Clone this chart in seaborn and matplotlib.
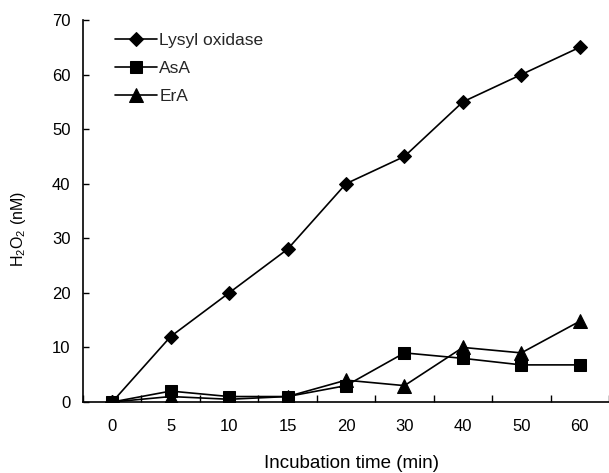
import matplotlib
matplotlib.use("Agg")
import matplotlib.pyplot as plt
import seaborn as sns
import pandas as pd
import numpy as np

times = ["0", "5", "10", "15", "20", "30", "40", "50", "60"]
lysyl = [0, 12, 20, 28, 40, 45, 55, 60, 65]
asa = [0, 2, 1, 1, 3, 9, 8, 6.8, 6.8]
era = [0, 1, 0.5, 1, 4, 3, 10, 9, 14.8]
series_names = ["Lysyl oxidase", "AsA", "ErA"]
yticks = [0, 10, 20, 30, 40, 50, 60, 70]

df = pd.DataFrame({
    "time": times * 3,
    "value": lysyl + asa + era,
    "series": [series_names[0]] * len(times) + [series_names[1]] * len(times) + [series_names[2]] * len(times),
})

sns.set_style("ticks")
plt.rcParams["font.family"] = ["Liberation Sans", "DejaVu Sans"]
plt.rcParams["mathtext.default"] = "regular"

fig = plt.figure(figsize=(6.09, 4.73), dpi=100)
ax = fig.add_axes([83 / 609, 1 - 402 / 473, 526 / 609, 382 / 473])

markers = {"Lysyl oxidase": "D", "AsA": "s", "ErA": "^"}
sizes = {"Lysyl oxidase": 7, "AsA": 8.5, "ErA": 9.5}
for name in series_names:
    sub = df[df["series"] == name]
    sns.lineplot(data=sub, x="time", y="value", ax=ax, color="black",
                 marker=markers[name], markersize=sizes[name], linewidth=1.2,
                 markeredgecolor="black", markerfacecolor="black", label=name,
                 sort=False)

ax.set_xlim(-0.5, len(times) - 0.5)
ax.set_ylim(0, 70)
ax.set_yticks(yticks)
ax.set_xticks(range(len(times)))
ax.set_xticklabels(times)
ax.set_xticks(np.arange(-0.5, len(times), 1.0), minor=True)
ax.tick_params(axis="x", which="major", length=0, pad=12, labelsize=12, colors="black")
ax.tick_params(axis="x", which="minor", length=5, direction="in", width=1, color="black")
ax.tick_params(axis="y", which="major", length=4, direction="in", width=1, pad=9, labelsize=12, colors="black")

for s in ["top", "right"]:
    ax.spines[s].set_visible(False)
for s in ["left", "bottom"]:
    ax.spines[s].set_color("black")
    ax.spines[s].set_linewidth(1.2)

ax.set_xlabel("Incubation time (min)", fontsize=13.5, color="black")
ax.set_ylabel("H$_2$O$_2$ (nM)", fontsize=11.5, color="black")
ax.xaxis.set_label_coords(0.511, -0.138)
ax.yaxis.set_label_coords(-0.104, 0.453)

handles, labels = ax.get_legend_handles_labels()
ax.legend(handles, labels, loc="upper left", bbox_to_anchor=(0.061, 0.967),
          frameon=False, fontsize=12.5, handlelength=2.4, handletextpad=0.15,
          labelspacing=0.74, borderpad=0, borderaxespad=0)

fig.savefig("out.png", dpi=100, facecolor="white")
